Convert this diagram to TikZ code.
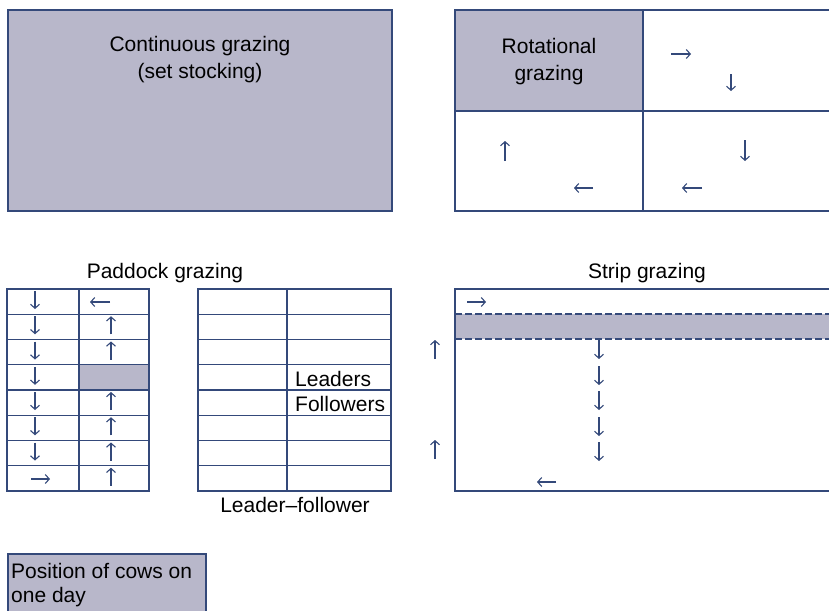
\documentclass[tikz,border=0pt]{standalone}
\usepackage{fontspec}
\setmainfont{Liberation Sans}
\usetikzlibrary{arrows.meta}
\definecolor{navy}{HTML}{34497A}
\definecolor{lav}{HTML}{B8B7CA}
\begin{document}
\begin{tikzpicture}[x=1pt,y=-1pt,
  box/.style={draw=navy,line width=1.3pt},
  dashbox/.style={draw=navy,line width=1.3pt,dash pattern=on 7pt off 3pt},
  arr/.style={draw=navy,line width=1.1pt,-{Straight Barb[length=4pt,width=9pt]}},
  lbl/.style={font=\fontsize{21}{26}\selectfont,inner sep=0pt,anchor=base},
  lblw/.style={font=\fontsize{21}{26}\selectfont,inner sep=0pt,anchor=base west}]
\useasboundingbox (0,0) rectangle (829,610);
\clip (0,0) rectangle (829,610);

% Continuous grazing
\draw[box,fill=lav] (8,10) rectangle (392,211);
\node[lbl] (cg1) at (200,52) {Continuous grazing};
\node[lbl] (cg2) at (200,78) {(set stocking)};

% Rotational grazing
\fill[lav] (455,10) rectangle (643,111);
\draw[box] (455,10) rectangle (845,211);
\draw[box] (643,10) -- (643,211);
\draw[box] (455,111) -- (845,111);
\node[lbl] (rg1) at (549,54) {Rotational};
\node[lbl] (rg2) at (549,80) {grazing};
\draw[arr] (671,54) -- (691,54);
\draw[arr] (731,74) -- (731,91);
\draw[arr] (505,161) -- (505,141);
\draw[arr] (593,188) -- (574,188);
\draw[arr] (745,140) -- (745,161);
\draw[arr] (702,188) -- (682,188);

% Paddock grazing
\node[lbl] (pg) at (165,278) {Paddock grazing};
\fill[lav] (79,364.75) rectangle (149,390);
\draw[box] (7,289) rectangle (149,491);
\draw[box] (79,289) -- (79,491);
\foreach \i in {1,...,7} {
  \draw[box] (7,289+\i*25.25) -- (149,289+\i*25.25);
}
\foreach \i in {0,...,6} {
  \draw[arr] (35,289+\i*25.25+2) -- (35,289+\i*25.25+20);
}
\draw[arr] (31,479) -- (50,479);
\draw[arr] (110,302) -- (90,302);
\foreach \i in {1,2,4,5,6,7} {
  \draw[arr] (111,289+\i*25.25+20) -- (111,289+\i*25.25+2);
}

% Leader-follower
\draw[box] (198,289) rectangle (391,491);
\draw[box] (287,289) -- (287,491);
\foreach \i in {1,...,7} {
  \draw[box] (198,289+\i*25.25) -- (391,289+\i*25.25);
}
\node[lblw] (ld) at (295,386) {Leaders};
\node[lblw] (fl) at (295,411) {Followers};
\node[lbl] (lf) at (295,512) {Leader–follower};

% Strip grazing
\node[lbl] (sg) at (647,278) {Strip grazing};
\fill[lav] (455,314) rectangle (845,339);
\draw[box] (455,289) rectangle (845,491);
\draw[dashbox] (455,314) -- (845,314);
\draw[dashbox] (455,339) -- (845,339);
\draw[arr] (467,302) -- (486,302);
\draw[arr] (435,359) -- (435,340);
\draw[arr] (435,459) -- (435,440);
\draw[arr] (599,340) -- (599,359);
\draw[arr] (599,366) -- (599,385);
\draw[arr] (599,391) -- (599,410);
\draw[arr] (599,417) -- (599,436);
\draw[arr] (599,442) -- (599,461);
\draw[arr] (556,482) -- (537,482);

% Legend
\draw[box,fill=lav] (8,554) rectangle (206,620);
\node[lblw] (lg1) at (11,578) {Position of cows on};
\node[lblw] (lg2) at (11,602) {one day};
\end{tikzpicture}
\end{document}
